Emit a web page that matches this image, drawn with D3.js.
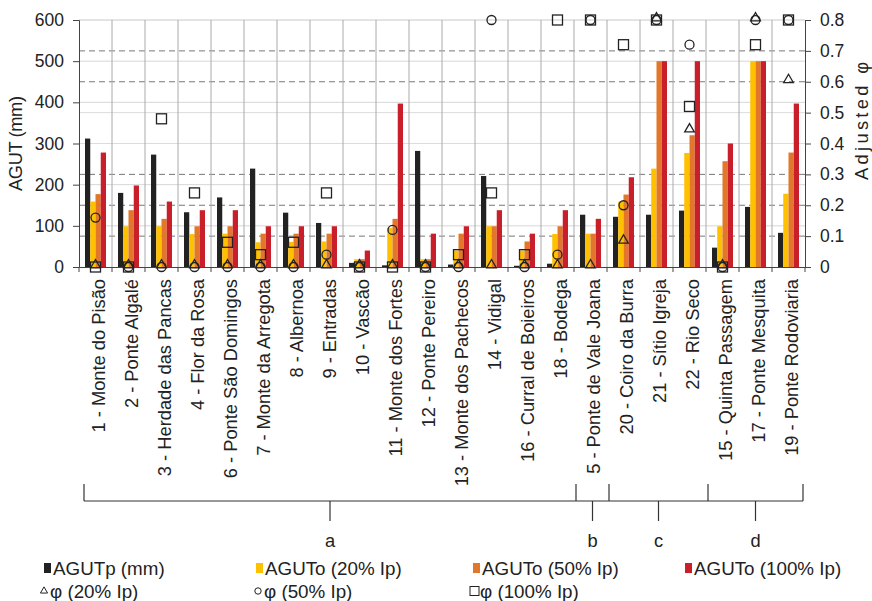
<!DOCTYPE html>
<html>
<head>
<meta charset="utf-8">
<script src="https://cdn.jsdelivr.net/npm/d3@7"></script>
<style>
  html, body { margin: 0; padding: 0; background: #fff; }
  svg { display: block; font-family: "Liberation Sans", Arial, sans-serif; }
</style>
</head>
<body>
<svg id="chart" width="872" height="601"></svg>
<script>
// ---------------- DATA ----------------
const categories = [
  "1 - Monte do Pisão", "2 - Ponte Algalé", "3 - Herdade das Pancas", "4 - Flor da Rosa",
  "6 - Ponte São Domingos", "7 - Monte da Arregota", "8 - Albernoa", "9 - Entradas",
  "10 - Vascão", "11 - Monte dos Fortes", "12 - Ponte Pereiro", "13 - Monte dos Pachecos",
  "14 - Vidigal", "16 - Curral de Boieiros", "18 - Bodega", "5 - Ponte de Vale Joana",
  "20 - Coiro da Burra", "21 - Sítio Igreja", "22 - Rio Seco", "15 - Quinta Passagem",
  "17 - Ponte Mesquita", "19 - Ponte Rodoviaria"
];
const agutP    = [312, 180, 273, 133, 169, 239, 132, 107, 10, 4, 282, 6, 221, 3, 8, 127, 122, 127, 137, 47, 146, 83];
const agutO20  = [159, 99, 99, 80, 81, 60, 61, 62, 19, 95, 19, 40, 99, 40, 80, 81, 159, 239, 277, 99, 500, 178];
const agutO50  = [177, 138, 117, 99, 99, 81, 81, 81, 19, 117, 19, 81, 99, 62, 99, 81, 176, 500, 320, 257, 500, 278];
const agutO100 = [278, 198, 159, 138, 138, 99, 99, 99, 40, 397, 81, 99, 138, 81, 138, 117, 218, 500, 500, 300, 500, 397];
const phi20  = [0, 0, 0, 0, 0, 0, 0, 0, 0, 0, 0, 0, 0, 0, 0, 0, 0.08, 0.8, 0.44, 0, 0.8, 0.6];
const phi50  = [0.16, 0, 0, 0, 0, 0, 0, 0.04, 0, 0.12, 0, 0, 0.8, 0, 0.04, 0.8, 0.2, 0.8, 0.72, 0, 0.8, 0.8];
const phi100 = [0, 0, 0.48, 0.24, 0.08, 0.04, 0.08, 0.24, 0, 0, 0, 0.04, 0.24, 0.04, 0.8, 0.8, 0.72, 0.8, 0.52, 0, 0.72, 0.8];
const barSeriesNames = ["AGUTp (mm)", "AGUTo (20% Ip)", "AGUTo (50% Ip)", "AGUTo (100% Ip)"];
const phiSeriesNames = ["φ (20% Ip)", "φ (50% Ip)", "φ (100% Ip)"];
const leftTicks  = [0, 100, 200, 300, 400, 500, 600];
const rightTicks = [0, 0.1, 0.2, 0.3, 0.4, 0.5, 0.6, 0.7, 0.8];
const groupLabels = ["a", "b", "c", "d"];
const groupSizes  = [15, 1, 3, 3];

// ---------------- LAYOUT ----------------
const svg = d3.select("#chart");
const L = 79, R = 805, T = 20, B = 267;
const barColors = ["#222222", "#FFC000", "#E2762B", "#C91F2B"];
const ink = "#222";
const fs = "18.3px";

const x = d3.scaleBand().domain(categories).range([L, R]).padding(0);
const inner = d3.scaleBand().domain(barSeriesNames).range([6, x.bandwidth() - 6]).padding(0);
const yL = d3.scaleLinear().domain([0, 600]).range([B, T]);
const yR = d3.scaleLinear().domain([0, 0.8]).range([B, T]);

// gridlines
const grid = svg.append("g");
grid.selectAll("line.hl").data(leftTicks.filter(d => d > 0)).join("line")
  .attr("x1", L).attr("x2", R).attr("y1", d => yL(d)).attr("y2", d => yL(d))
  .attr("stroke", "#d6d6d6").attr("stroke-width", 1);
const dashedTick = t => t > 0 && Math.abs(t - 0.4) > 1e-6 && Math.abs(t - 0.5) > 1e-6 && Math.abs(t - 0.8) > 1e-6;
grid.selectAll("line.hr").data(rightTicks.filter(t => t > 0)).join("line")
  .attr("x1", L).attr("x2", R).attr("y1", d => yR(d)).attr("y2", d => yR(d))
  .attr("stroke", d => dashedTick(d) ? "#777" : "#dcdcdc")
  .attr("stroke-dasharray", d => dashedTick(d) ? "6,4" : null)
  .attr("stroke-width", 1);
grid.selectAll("line.v").data(categories.slice(1)).join("line")
  .attr("x1", d => x(d)).attr("x2", d => x(d)).attr("y1", T).attr("y2", B)
  .attr("stroke", "#aaaaaa").attr("stroke-width", 1);

// bars
const barSeries = [agutP, agutO20, agutO50, agutO100];
barSeries.forEach((vals, si) => {
  svg.append("g").selectAll("rect").data(vals).join("rect")
    .attr("x", (d, i) => x(categories[i]) + inner(barSeriesNames[si]))
    .attr("width", inner.bandwidth())
    .attr("y", d => yL(d))
    .attr("height", d => B - yL(d))
    .attr("fill", barColors[si]);
});

// axes
const axL = svg.append("g").attr("transform", `translate(${L},0)`)
  .call(d3.axisLeft(yL).tickValues(leftTicks).tickSize(6).tickPadding(9));
const axR = svg.append("g").attr("transform", `translate(${R},0)`)
  .call(d3.axisRight(yR).tickValues(rightTicks).tickSize(6).tickPadding(9)
    .tickFormat(d => d === 0 ? "0" : d3.format(".1f")(d)));
const axB = svg.append("g").attr("transform", `translate(0,${B})`)
  .call(d3.axisBottom(x).tickSize(0).tickFormat(""));
[axL, axR, axB].forEach(a => {
  a.select(".domain").attr("stroke", "#444");
  a.selectAll(".tick line").attr("stroke", "#444");
  a.selectAll("text").attr("fill", ink).style("font-size", "17.5px")
    .style("font-family", "'Liberation Sans', Arial, sans-serif");
});
// bottom ticks at category boundaries
svg.append("g").selectAll("line").data(categories.concat(["__end"])).join("line")
  .attr("x1", (d, i) => L + i * x.bandwidth()).attr("x2", (d, i) => L + i * x.bandwidth())
  .attr("y1", B).attr("y2", B + 5).attr("stroke", "#444");

// category labels
svg.append("g").selectAll("text").data(categories).join("text")
  .attr("transform", d => `translate(${x(d) + x.bandwidth() / 2 + 3},279) rotate(-90)`)
  .attr("text-anchor", "end").attr("dy", "0.35em")
  .attr("fill", ink).style("font-size", fs)
  .text(d => d);

// axis titles
svg.append("text").attr("transform", `translate(16,${(T + B) / 2}) rotate(-90)`)
  .attr("text-anchor", "middle").attr("dy", "0.35em").attr("fill", ink)
  .attr("textLength", 95).attr("lengthAdjust", "spacing")
  .style("font-size", fs).text("AGUT (mm)");
svg.append("text").attr("transform", `translate(862,${121}) rotate(-90)`)
  .attr("text-anchor", "middle").attr("dy", "0.35em").attr("fill", ink)
  .attr("textLength", 118).attr("lengthAdjust", "spacing")
  .style("font-size", fs).text("Adjusted φ");

// phi markers
const cx = i => x(categories[i]) + x.bandwidth() / 2;
const markers = svg.append("g").attr("fill", "none").attr("stroke", ink).attr("stroke-width", 1.3);
markers.selectAll("path.tri").data(phi20).join("path")
  .attr("d", d3.symbol(d3.symbolTriangle, 40)())
  .attr("transform", (d, i) => `translate(${cx(i)},${yR(d) - 2})`);
markers.selectAll("circle").data(phi50).join("circle")
  .attr("cx", (d, i) => cx(i)).attr("cy", d => yR(d)).attr("r", 4.5);
markers.selectAll("rect").data(phi100).join("rect")
  .attr("x", (d, i) => cx(i) - 5).attr("y", d => yR(d) - 5)
  .attr("width", 10).attr("height", 10);

// group bracket
const bracketY = 501;
const gEdges = [];
let acc = 0;
gEdges.push(x(categories[0]) + 5);
groupSizes.forEach((n, gi) => {
  acc += n;
  const edge = acc < categories.length ? x(categories[acc]) + 2 : x(categories[acc - 1]) + x.bandwidth() - 2;
  gEdges.push(edge);
});
const br = svg.append("g").attr("stroke", "#333").attr("stroke-width", 1.2);
br.append("line").attr("x1", gEdges[0]).attr("x2", gEdges[gEdges.length - 1])
  .attr("y1", bracketY).attr("y2", bracketY);
br.selectAll("line.up").data(gEdges).join("line")
  .attr("x1", d => d).attr("x2", d => d).attr("y1", bracketY - 17).attr("y2", bracketY);
const mids = groupLabels.map((g, i) => (gEdges[i] + gEdges[i + 1]) / 2);
br.selectAll("line.down").data(mids).join("line")
  .attr("x1", d => d).attr("x2", d => d).attr("y1", bracketY).attr("y2", bracketY + 20);
svg.append("g").selectAll("text").data(groupLabels).join("text")
  .attr("x", (d, i) => mids[i]).attr("y", 547).attr("text-anchor", "middle")
  .attr("fill", ink).style("font-size", fs).text(d => d);

// legend
const legX = [44, 256, 473, 685];
const leg1 = svg.append("g");
barSeriesNames.forEach((n, i) => {
  leg1.append("rect").attr("x", legX[i]).attr("y", 563).attr("width", 7).attr("height", 10).attr("fill", barColors[i]);
  leg1.append("text").attr("x", legX[i] + 9).attr("y", 568).attr("dy", "0.35em")
    .attr("fill", ink).style("font-size", "18.8px").text(n);
});
const leg2X = [40, 254, 470];
const leg2 = svg.append("g");
const ly = 591;
leg2.append("path").attr("d", d3.symbol(d3.symbolTriangle, 22)())
  .attr("transform", `translate(${leg2X[0] + 4},${ly})`).attr("fill", "none").attr("stroke", ink);
leg2.append("circle").attr("cx", leg2X[1] + 4).attr("cy", ly).attr("r", 3.2).attr("fill", "none").attr("stroke", ink);
leg2.append("rect").attr("x", leg2X[2]).attr("y", ly - 4.5).attr("width", 9).attr("height", 9).attr("fill", "none").attr("stroke", ink);
phiSeriesNames.forEach((n, i) => {
  leg2.append("text").attr("x", leg2X[i] + 10).attr("y", ly).attr("dy", "0.35em")
    .attr("fill", ink).style("font-size", "18.8px").text(n);
});
</script>
</body>
</html>
